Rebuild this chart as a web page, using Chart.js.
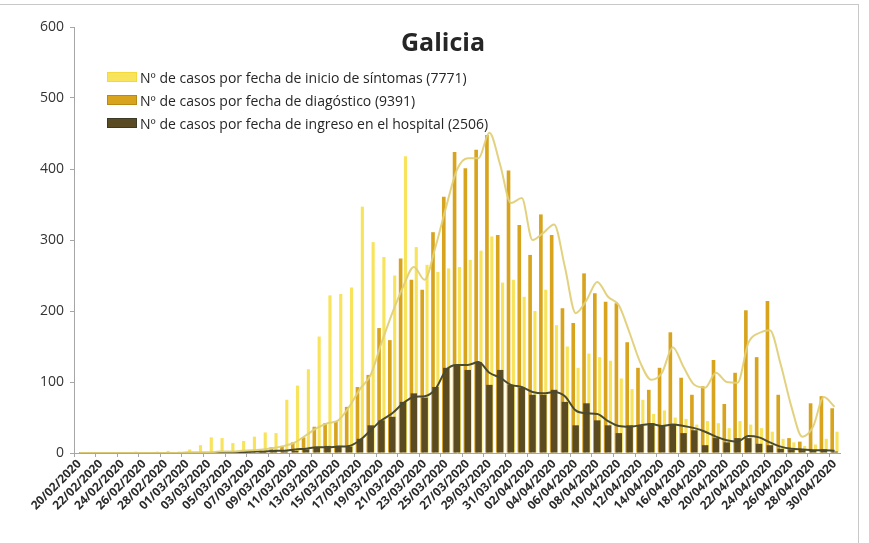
<!DOCTYPE html>
<html>
<head>
<meta charset="utf-8">
<script src="https://cdn.jsdelivr.net/npm/chart.js@4/dist/chart.umd.min.js"></script>
<style>
  body { margin: 0; background: #fff; }
  #wrap { position: relative; width: 869px; height: 543px; font-family: "Open Sans", sans-serif; }
  #frame { position: absolute; left: 0; top: 4px; width: 858px; height: 539px; border-top: 1px solid #c8c8c8; border-right: 1px solid #c8c8c8; pointer-events: none; }
  #title { position: absolute; left: 0; width: 886px; top: 24px; text-align: center; font-weight: 700; font-size: 25px; color: #262626; }
  #legend { position: absolute; left: 107px; top: 68px; font-size: 14px; color: #262626; }
  .row { height: 23px; line-height: 20px; white-space: nowrap; }
  .box { display: inline-block; width: 28px; height: 8px; margin-right: 3px; vertical-align: 1px; }
</style>
</head>
<body>
<div id="wrap">
  <canvas id="c" width="869" height="543"></canvas>
  <div id="frame"></div>
  <div id="title">Galicia</div>
  <div id="legend"></div>
</div>
<script>
const dates = ['20/02/2020','21/02/2020','22/02/2020','23/02/2020','24/02/2020','25/02/2020','26/02/2020','27/02/2020','28/02/2020','29/02/2020',
  '01/03/2020','02/03/2020','03/03/2020','04/03/2020','05/03/2020','06/03/2020','07/03/2020','08/03/2020','09/03/2020','10/03/2020',
  '11/03/2020','12/03/2020','13/03/2020','14/03/2020','15/03/2020','16/03/2020','17/03/2020','18/03/2020','19/03/2020','20/03/2020',
  '21/03/2020','22/03/2020','23/03/2020','24/03/2020','25/03/2020','26/03/2020','27/03/2020','28/03/2020','29/03/2020','30/03/2020',
  '31/03/2020','01/04/2020','02/04/2020','03/04/2020','04/04/2020','05/04/2020','06/04/2020','07/04/2020','08/04/2020','09/04/2020',
  '10/04/2020','11/04/2020','12/04/2020','13/04/2020','14/04/2020','15/04/2020','16/04/2020','17/04/2020','18/04/2020','19/04/2020',
  '20/04/2020','21/04/2020','22/04/2020','23/04/2020','24/04/2020','25/04/2020','26/04/2020','27/04/2020','28/04/2020','29/04/2020',
  '30/04/2020'];

// casos por fecha de inicio de síntomas
const sintomas = [0,0,1,0,0,2,1,2,3,2,
  5,11,22,21,14,17,23,29,28,75,
  95,118,164,222,224,233,347,297,276,250,
  418,290,265,255,260,262,272,285,305,240,
  244,220,200,230,180,150,120,140,135,130,
  105,90,75,55,60,50,48,40,45,42,
  35,45,40,35,30,20,15,10,12,20,
  30];
// casos por fecha de diagnóstico
const diagnostico = [0,0,0,0,0,0,0,0,0,0,
  1,1,1,2,2,3,4,5,8,10,
  15,22,37,42,45,65,93,110,176,159,
  274,244,230,311,361,424,401,427,448,307,
  398,321,279,336,307,204,183,253,225,213,
  211,156,120,89,120,170,106,82,94,131,
  69,113,201,135,214,82,21,16,70,80,
  63];
// casos por fecha de ingreso en el hospital
const hospital = [0,0,0,0,0,0,0,0,0,0,
  0,0,0,0,1,1,2,2,3,2,
  3,5,8,10,10,9,20,39,46,51,
  72,84,78,93,120,124,117,128,96,117,
  96,92,82,82,89,72,39,70,46,39,
  28,39,39,42,38,40,28,32,11,21,
  15,21,21,13,11,6,5,4,3,5,
  2];
// smoothed trend lines
const tendDiag = [0,0,0,0,0,0,0,0,0,0,
  1,1,1,2,2,3,4,5,7,10,
  15,25,35,42,46,65,90,110,155,197,
  234,262,244,290,347,399,415,415,451,406,
  352,359,300,310,322,262,197,215,241,220,
  208,169,127,103,113,149,121,96,92,113,
  100,99,155,169,173,125,65,23,37,79,
  65];
const tendHosp = [0,0,0,0,0,0,0,0,0,0,
  0,0,0,0,1,1,2,2,3,3,
  5,6,8,8,9,10,18,32,46,56,
  70,79,80,90,117,124,124,128,113,106,
  96,93,86,84,86,80,60,56,55,45,
  38,37,39,41,38,40,38,35,30,23,
  18,16,24,22,15,9,6,5,4,4,
  3];
const yTicks = [0, 100, 200, 300, 400, 500, 600];

const seriesNames = [
  'Nº de casos por fecha de inicio de síntomas (7771)',
  'Nº de casos por fecha de diagóstico (9391)',
  'Nº de casos por fecha de ingreso en el hospital (2506)'
];
const colYellow = '#f8e45c';
const colOrange = '#d8a41e';
const colDark = '#5a4b22';

// legend drawn as html over the plot
const legendColors = [
  [colYellow, '#f3d93c'],
  [colOrange, '#b88a14'],
  [colDark, '#3b3a28']
];
const legend = document.getElementById('legend');
seriesNames.forEach((name, i) => {
  const row = document.createElement('div');
  row.className = 'row';
  const box = document.createElement('span');
  box.className = 'box';
  box.style.background = legendColors[i][0];
  box.style.border = '1px solid ' + legendColors[i][1];
  row.appendChild(box);
  row.appendChild(document.createTextNode(name));
  legend.appendChild(row);
});

const ctx = document.getElementById('c').getContext('2d');
new Chart(ctx, {
  type: 'bar',
  data: {
    labels: dates,
    datasets: [
      {
        type: 'line',
        label: 'tendencia diagnóstico',
        data: tendDiag,
        borderColor: 'rgba(224, 208, 120, 0.95)',
        borderWidth: 2,
        pointRadius: 0,
        cubicInterpolationMode: 'monotone',
        order: 0
      },
      {
        type: 'line',
        label: 'tendencia hospital',
        data: tendHosp,
        borderColor: '#4a4a30',
        borderWidth: 2,
        pointRadius: 0,
        cubicInterpolationMode: 'monotone',
        order: 0
      },
      {
        label: seriesNames[2],
        data: hospital,
        backgroundColor: colDark,
        grouped: false,
        barPercentage: 0.6,
        categoryPercentage: 1,
        order: 1
      },
      {
        label: seriesNames[1],
        data: diagnostico,
        backgroundColor: colOrange,
        barPercentage: 0.75,
        categoryPercentage: 0.9,
        order: 2
      },
      {
        label: seriesNames[0],
        data: sintomas,
        backgroundColor: colYellow,
        barPercentage: 0.65,
        categoryPercentage: 0.9,
        order: 3
      }
    ]
  },
  options: {
    responsive: false,
    animation: false,
    layout: { padding: { top: 27, right: 29, left: 0, bottom: 0 } },
    plugins: {
      legend: { display: false },
      tooltip: { enabled: false }
    },
    scales: {
      x: {
        offset: true,
        grid: {
          drawOnChartArea: false,
          drawTicks: true,
          tickLength: 4,
          color: (c) => (c.index % 2 === 0 ? '#a6a6a6' : 'rgba(0,0,0,0)')
        },
        border: { color: '#a6a6a6' },
        ticks: {
          autoSkip: false,
          maxRotation: 45,
          minRotation: 45,
          padding: 0,
          color: '#2b2b2b',
          font: { family: 'Open Sans', size: 12, weight: '700' },
          callback: (v, i) => (i % 2 === 0 ? dates[i] : '')
        },
        afterFit: (s) => { s.height = 90; }
      },
      y: {
        min: 0,
        max: 600,
        afterBuildTicks: (s) => { s.ticks = yTicks.map(v => ({ value: v })); },
        grid: { drawOnChartArea: false, drawTicks: true, tickLength: 4, color: '#a6a6a6' },
        border: { color: '#a6a6a6' },
        ticks: {
          color: '#333',
          padding: 6,
          font: { family: 'Open Sans', size: 14 }
        },
        afterFit: (s) => { s.width = 74; }
      }
    }
  }
});
</script>
</body>
</html>
